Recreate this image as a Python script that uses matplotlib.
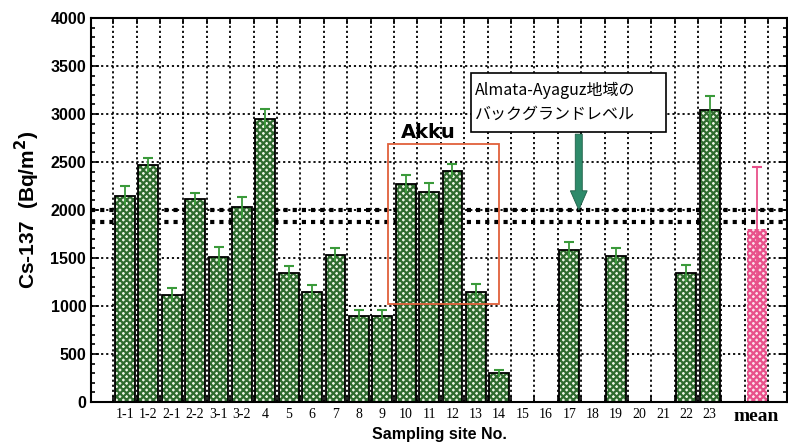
import matplotlib
matplotlib.use("Agg")
import matplotlib.pyplot as plt
import numpy as np
from matplotlib.patches import Rectangle, FancyArrow

sites = ["1-1", "1-2", "2-1", "2-2", "3-1", "3-2", "4", "5", "6", "7", "8", "9",
         "10", "11", "12", "13", "14", "15", "16", "17", "18", "19", "20", "21",
         "22", "23"]
nan = np.nan
cs137 = [2150, 2470, 1115, 2115, 1515, 2030, 2950, 1345, 1150, 1535, 895, 895,
         2270, 2185, 2410, 1150, 300, nan, nan, 1585, nan, 1525, nan, nan,
         1340, 3040]
cs137_err = [100, 75, 70, 60, 95, 110, 100, 70, 70, 70, 62, 62,
             95, 95, 70, 75, 35, nan, nan, 80, nan, 83, nan, nan,
             87, 150]
mean_value = 1800
mean_err = 650
background_band = (1880, 2000)

green_dark = "#2f6b2f"
green_light = "#eef5e6"
pink = "#e8508a"

plt.rcParams["hatch.linewidth"] = 1.6

fig = plt.figure(figsize=(7.88, 4.43), dpi=100)
ax = fig.add_axes([0.1155, 0.0926, 0.8832, 0.8668])

x = np.arange(1, len(sites) + 1)
vals = np.array(cs137, dtype=float)
errs = np.array(cs137_err, dtype=float)
x_mean = len(sites) + 2
w = 0.85

# grid first so bars sit on top
for k in range(0, x_mean + 1):
    ax.axvline(k + 0.5, color="black", ls=(0, (1.2, 1.6)), lw=1.3, zorder=0)
for yv in range(500, 4000, 500):
    ax.axhline(yv, color="black", ls=(0, (1.2, 1.6)), lw=1.3, zorder=0)
for yv in background_band:
    ax.axhline(yv, color="black", ls=(0, (1, 1.2)), lw=3, zorder=0)

ok = ~np.isnan(vals)
ax.bar(x[ok], vals[ok], width=w, color=green_light, edgecolor=green_dark,
       hatch="xxxxx", linewidth=0, zorder=2)
ax.bar(x[ok], vals[ok], width=w, fill=False, edgecolor="black", linewidth=1.3, zorder=3)
ax.vlines(x[ok], vals[ok] - errs[ok], vals[ok] + errs[ok], color="#3a9a3a", lw=1.3, zorder=4)
ax.plot(x[ok], vals[ok] + errs[ok], ls="none", marker="_", ms=7, mew=1.5,
        color="#3a9a3a", zorder=4)

ax.bar([x_mean], [mean_value], width=w, color="#fbe3ec", edgecolor=pink,
       hatch="xxxxx", linewidth=0, zorder=2)
ax.vlines([x_mean], mean_value - mean_err, mean_value + mean_err, color=pink, lw=1.3, zorder=4)
ax.plot([x_mean], [mean_value + mean_err], ls="none", marker="_", ms=7, mew=1.5,
        color=pink, zorder=4)

# Akku box
ax.add_patch(Rectangle((12.25, 1020), 4.73, 1670, fill=False,
                       edgecolor="#e0603a", lw=1.3, zorder=5))
ax.text(13.95, 2810, "Akku", fontsize=14, fontweight="bold", ha="center",
        va="center", zorder=6)

# background-level note and arrow
ax.add_patch(Rectangle((15.8, 2815), 8.35, 610, fc="white", ec="black",
                       lw=1.2, zorder=5))
ax.text(15.98, 3120, "Almata-Ayaguz地域の\nバックグランドレベル", fontsize=11.5,
        family=["Noto Sans CJK JP", "DejaVu Sans"], ha="left", va="center",
        linespacing=1.55, zorder=6)
ax.add_patch(FancyArrow(20.4, 2790, 0, -790, width=0.3, head_width=0.72,
                        head_length=200, length_includes_head=True,
                        color="#2e8a6a", ec="#1f5f48", lw=0.6, zorder=6))

ax.set_xlim(-0.45, 29.3)
ax.set_ylim(0, 4000)
ax.set_xticks(list(x) + [x_mean])
ax.set_xticklabels(sites + ["mean"], family="Liberation Serif", fontsize=10)
ax.get_xticklabels()[-1].set_fontweight("bold")
ax.get_xticklabels()[-1].set_fontsize(14)
ax.tick_params(axis="x", length=0, pad=4)
ax.set_xticks(np.arange(0.5, x_mean + 1, 1), minor=True)
ax.tick_params(axis="x", which="minor", direction="in", length=4, width=1.2,
               top=True, bottom=True)
ax.set_yticks(range(0, 4001, 500))
ax.set_yticks(range(0, 4001, 100), minor=True)
ax.tick_params(axis="y", which="both", direction="in", left=True, right=True, width=1.2)
ax.tick_params(axis="y", which="major", length=6)
ax.tick_params(axis="y", which="minor", length=3)
for lab in ax.get_yticklabels():
    lab.set_fontweight("bold")
    lab.set_fontsize(11.5)
    lab.set_family("Liberation Sans")
for s in ax.spines.values():
    s.set_linewidth(1.5)

ax.set_ylabel("Cs-137  (Bq/m$\\mathbf{^2}$)", fontsize=15, fontweight="bold",
              family="Liberation Sans", labelpad=6)
ax.set_xlabel("Sampling site No.", fontsize=11.5, fontweight="bold",
              family="Liberation Sans", labelpad=2)

fig.savefig("out.png", dpi=100)
